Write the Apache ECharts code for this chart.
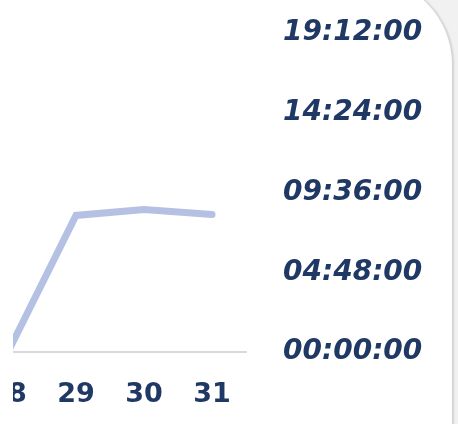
<!DOCTYPE html>
<html>
<head>
<meta charset="utf-8">
<script src="https://cdn.jsdelivr.net/npm/echarts@6/dist/echarts.min.js"></script>
<style>
  html, body { margin: 0; padding: 0; background: #f1f1f1; overflow: hidden; }
  .card {
    position: absolute; left: -40px; top: -22px; width: 492px; height: 480px;
    background: #fff; border-top-right-radius: 86px;
    box-shadow: 2px 0 2px rgba(0, 0, 0, 0.13);
  }
  .clip { position: absolute; left: 13px; top: 0; width: 445px; height: 424px; overflow: hidden; }
  #chart { position: absolute; left: -73px; top: 0; width: 518px; height: 424px; }
</style>
</head>
<body>
<div class="card"></div>
<div class="clip"><div id="chart"></div></div>
<script>
// days of the month
const days = ['28', '29', '30', '31']
// duration in seconds
const durations = [0, 29600, 30900, 29800]
// y ticks: every 4:48:00
const yMax = 69120
const yStep = 17280

const pad = n => String(n).padStart(2, '0')
const toHms = v => {
  const h = Math.floor(v / 3600)
  const m = Math.floor((v % 3600) / 60)
  const s = Math.round(v % 60)
  return pad(h) + ':' + pad(m) + ':' + pad(s)
}

const chart = echarts.init(document.getElementById('chart'))
chart.setOption({
  animation: false,
  grid: { left: 34, width: 272, top: 33, bottom: 72 },
  xAxis: {
    type: 'category',
    data: days,
    boundaryGap: true,
    axisLine: { lineStyle: { color: '#d9d9d9', width: 2 } },
    axisTick: { show: false },
    axisLabel: {
      color: '#1f3864', fontFamily: 'DejaVu Sans', fontWeight: 'bold',
      fontSize: 27, margin: 29
    }
  },
  yAxis: {
    type: 'value',
    position: 'right',
    min: 0, max: yMax, interval: yStep,
    splitLine: { show: false },
    axisLine: { show: false },
    axisTick: { show: false },
    axisLabel: {
      color: '#1f3864', fontFamily: 'DejaVu Sans', fontWeight: 'bold',
      fontStyle: 'italic', fontSize: 28, margin: 37,
      padding: [4, 0, 0, 0],
      formatter: toHms
    }
  },
  series: [{
    type: 'line',
    data: durations,
    showSymbol: false,
    lineStyle: { color: '#b4c1e2', width: 7, cap: 'round', join: 'miter' }
  }]
})
</script>
</body>
</html>
